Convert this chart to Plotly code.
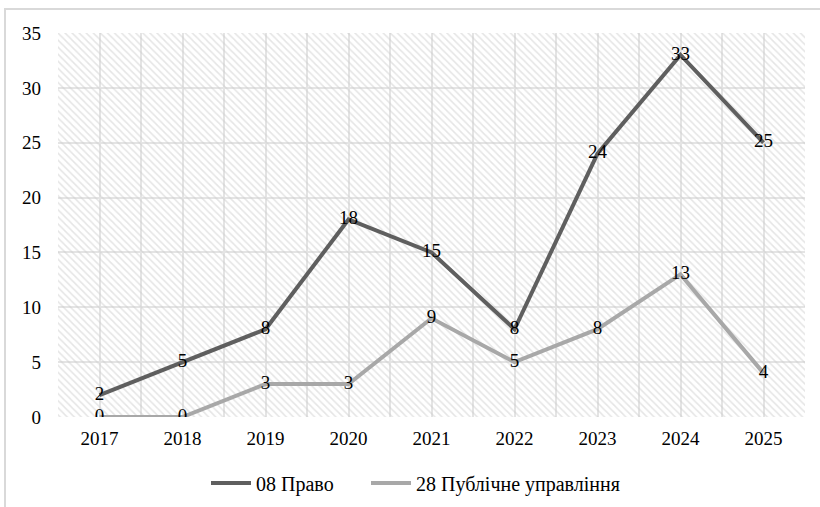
import plotly.graph_objects as go

# Number of works per year for two specialties
years = [2017, 2018, 2019, 2020, 2021, 2022, 2023, 2024, 2025]
pravo = [2, 5, 8, 18, 15, 8, 24, 33, 25]
publ_upr = [0, 0, 3, 3, 9, 5, 8, 13, 4]
series_names = ["08 Право", "28 Публічне управління"]
y_ticks = [0, 5, 10, 15, 20, 25, 30, 35]

Y_MAX = y_ticks[-1]
FONT = "'Liberation Serif', 'Times New Roman', 'DejaVu Serif', serif"
FSIZE = 19
GRID = "#e4e4e4"

fig = go.Figure()

# Hatched background of the plotting area (transparent between the hatch lines)
fig.add_trace(go.Bar(
    x=years, y=[Y_MAX] * len(years), width=1,
    marker=dict(color="rgba(0,0,0,0)", line=dict(width=0),
                pattern=dict(shape="\\", fgcolor="#cbcbcb", bgcolor="rgba(0,0,0,0)",
                             size=5, solidity=0.3, fillmode="overlay")),
    showlegend=False, hoverinfo="skip",
))

fig.add_trace(go.Scatter(
    x=years, y=pravo, name=series_names[0], mode="lines+text",
    line=dict(color="#5f5f5f", width=4), legend="legend",
    text=[str(v) for v in pravo], textposition="middle center",
    textfont=dict(family=FONT, size=FSIZE, color="#000000"),
))
fig.add_trace(go.Scatter(
    x=years, y=publ_upr, name=series_names[1], mode="lines+text",
    line=dict(color="#a8a8a8", width=4), legend="legend2",
    text=[str(v) for v in publ_upr], textposition="middle center",
    textfont=dict(family=FONT, size=FSIZE, color="#000000"),
))

# Outer frame of the chart
L, R, T, B = 58, 15, 33, 90
PW, PH = 820 - L - R, 507 - T - B
fig.add_shape(type="rect", xref="paper", yref="paper",
              x0=(5 - L) / PW, x1=(840 - L) / PW,
              y0=-(530 - (507 - B)) / PH, y1=((507 - B) - 9) / PH,
              line=dict(color="#d9d9d9", width=2), layer="below")

legend_common = dict(orientation="h", xanchor="left",
                     yref="container", y=(507 - 483) / 507, yanchor="middle",
                     font=dict(family=FONT, size=20), itemwidth=40)

fig.update_layout(
    width=820, height=507,
    margin=dict(l=L, r=R, t=T, b=B, autoexpand=False),
    paper_bgcolor="white", plot_bgcolor="white",
    font=dict(family=FONT, size=FSIZE, color="#000000"),
    showlegend=True,
    legend=dict(x=(206 - L) / PW, **legend_common),
    legend2=dict(x=(366 - L) / PW, **legend_common),
    bargap=0,
)
fig.update_xaxes(
    range=[years[0] - 0.5, years[-1] + 0.5],
    tickvals=years, ticktext=[str(y) for y in years],
    showgrid=True, gridcolor=GRID, gridwidth=2,
    minor=dict(tickvals=[y - 0.5 for y in years] + [years[-1] + 0.5],
               showgrid=True, gridcolor=GRID, gridwidth=2),
    zeroline=False, showline=False, ticks="", ticklabelstandoff=8,
    tickfont=dict(family=FONT, size=FSIZE), automargin=False,
)
fig.update_yaxes(
    range=[0, Y_MAX], tickvals=y_ticks,
    showgrid=True, gridcolor=GRID, gridwidth=2,
    zeroline=False, showline=False, ticks="", ticklabelstandoff=16,
    tickfont=dict(family=FONT, size=FSIZE), automargin=False,
)

fig.write_html("out.html")
